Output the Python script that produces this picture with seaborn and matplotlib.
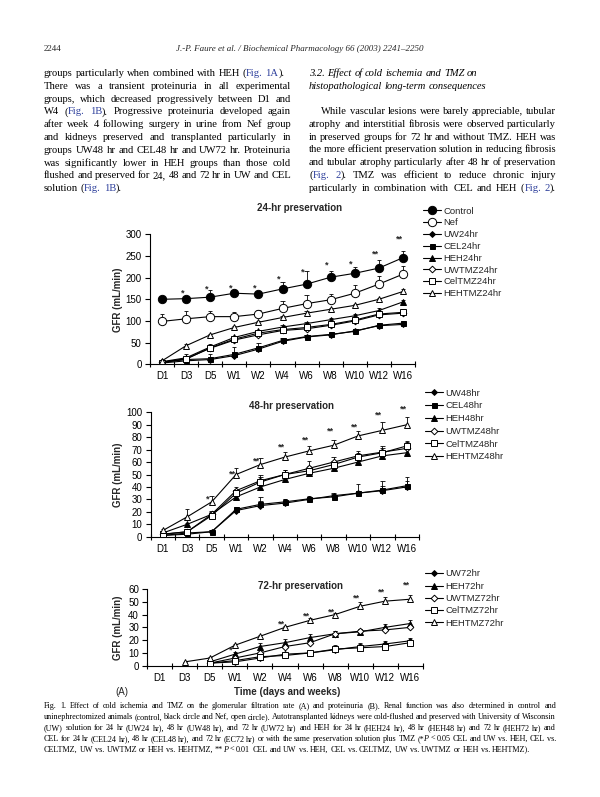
import numpy as np
import pandas as pd
import matplotlib
matplotlib.use("Agg")
import matplotlib.pyplot as plt
from matplotlib.lines import Line2D
import seaborn as sns

# ---------------- data ----------------
categories = ["D1", "D3", "D5", "W1", "W2", "W4", "W6", "W8", "W10", "W12", "W16"]
nan = np.nan

# 24-hr preservation
control = [150, 151.5, 155, 164, 162, 174, 185, 201, 210, 222, 246]
control_err = [3, 4, 16, 7, 4, 15, 30, 14, 15, 19, 16]
nef = [99, 105, 110, 110, 116, 129, 140, 149, 164, 185, 208]
nef_err = [17, 17, 12, 11, 10, 18, 20, 13, 18, 18, 18]
uw24 = [3, 8, 11, 20, 35, 53, 63, 68, 77, 89, 92]
uw24_err = [2, 4, 6, 8, 6, 5, 4, 4, 5, 5, 6]
cel24 = [5, 11, 13, 23, 38, 55, 64, 69, 76, 90, 95]
cel24_err = [2, 8, 10, 16, 12, 5, 4, 4, 5, 6, 6]
heh24 = [6, 15, 40, 62, 76, 86, 94, 103, 112, 124, 144]
heh24_err = [2, 8, 6, 4, 4, 4, 4, 4, 4, 5, 5]
uwtmz24 = [5, 13, 37, 56, 68, 78, 82, 90, 100, 114, 118]
uwtmz24_err = [2, 6, 8, 5, 6, 5, 5, 6, 6, 8, 10]
celtmz24 = [4, 12, 38, 58, 72, 80, 85, 92, 102, 116, 120]
celtmz24_err = [2, 5, 6, 5, 6, 5, 5, 5, 5, 6, 8]
hehtmz24 = [8, 43, 68, 85, 97, 108, 118, 127, 136, 150, 168]
hehtmz24_err = [2, 3, 3, 3, 3, 3, 4, 3, 4, 4, 5]
stars24_idx = [1, 2, 3, 4, 5, 6, 7, 8, 9, 10]
stars24_val = [165, 174, 175, 175, 196, 212, 229, 231, 255, 288]
stars24_txt = ["*", "*", "*", "*", "*", "*", "*", "*", "**", "**"]

# 48-hr preservation
uw48 = [1, 2, 4, 21, 25, 27, 30, 33, 35, 37, 40]
uw48_err = [1, 1, 1, 2, 7, 3, 2, 2, 7, 8, 8]
cel48 = [1, 3, 4, 22, 26, 28, 30.5, 32, 35, 37.5, 41]
cel48_err = [1, 1, 1, 2, 3, 2, 2, 2, 2, 3, 4]
heh48 = [3, 10, 18, 32, 40, 46, 51, 55, 60, 65, 67.5]
heh48_err = [1, 1, 2, 2, 3, 2, 3, 3, 2, 2, 3]
uwtmz48 = [2, 4, 18, 37, 45, 50, 55, 60, 65, 68, 71]
uwtmz48_err = [1, 1, 3, 3, 5, 4, 6, 4, 4, 5, 5]
celtmz48 = [2, 4, 17, 35, 44, 50, 53, 58, 64, 67.5, 73]
celtmz48_err = [1, 1, 2, 3, 4, 4, 4, 3, 3, 4, 4]
hehtmz48 = [5, 16, 28, 50, 58, 64, 69, 73.5, 81, 85.5, 90]
hehtmz48_err = [1, 6, 5, 5, 5, 4, 4, 4, 4, 6.5, 6]
stars48_idx = [2, 3, 4, 5, 6, 7, 8, 9, 10]
stars48_val = [30, 50, 61, 72, 78, 85, 88, 98, 103]
stars48_txt = ["*", "**", "**", "**", "**", "**", "**", "**", "**"]

# 72-hr preservation
uw72 = [nan, nan, 2, 3, 6, 9, 10, 12.5, 15, 17, 19.5]
uw72_err = [0, 0, 1, 1, 1, 1, 1, 2, 3, 2, 2]
heh72 = [nan, nan, 3, 9, 15, 18, 22, 25, 26.5, 30, 33]
heh72_err = [0, 0, 1, 2, 3, 3, 3, 2, 2, 3, 3]
uwtmz72 = [nan, nan, 2, 6, 10, 15, 18, 25, 27, 28, 30]
uwtmz72_err = [0, 0, 1, 1, 2, 2, 2, 2, 2, 2, 2]
celtmz72 = [nan, nan, 2, 4, 7, 8, 10, 13, 14, 15, 18]
celtmz72_err = [0, 0, 1, 1, 1, 1, 1, 3, 3, 2, 2]
hehtmz72 = [nan, 3, 6, 16, 23, 30, 35.5, 40, 46.5, 50.5, 52]
hehtmz72_err = [0, 0, 1, 1, 1, 1, 2, 1, 3, 3, 3]
stars72_idx = [3, 5, 6, 7, 8, 9, 10]
stars72_val = [12.3, 32.7, 39, 41.8, 52.8, 58, 63]
stars72_txt = ["*", "**", "**", "**", "**", "**", "**"]

# ---------------- styles ----------------
STY = {
    "Control": ("o", 6.0, "black"),
    "Nef": ("o", 6.0, "white"),
    "UW": ("D", 3.0, "black"),
    "CEL": ("s", 3.6, "black"),
    "HEH": ("^", 4.2, "black"),
    "UWTMZ": ("D", 3.4, "white"),
    "CelTMZ": ("s", 3.8, "white"),
    "HEHTMZ": ("^", 4.8, "white"),
}

sns.set_theme(style="ticks")
plt.rcParams["font.family"] = ["Liberation Sans", "DejaVu Sans"]
plt.rcParams["axes.edgecolor"] = "black"
plt.rcParams["xtick.color"] = "black"
plt.rcParams["ytick.color"] = "black"

W, H = 600, 797
fig = plt.figure(figsize=(W / 100, H / 100), dpi=100)
fig.patch.set_facecolor("white")


def fx(x):
    return x / W


def fy(y):
    return 1 - y / H


def add_axes(left, right, top, bottom):
    return fig.add_axes([fx(left), fy(bottom), (right - left) / W, (bottom - top) / H])


def style_axes(ax, ymax, ystep, left, right):
    sns.despine(ax=ax)
    ax.set_facecolor("none")
    ax.set_xlim(-0.5, 10.5)
    ax.set_ylim(0, ymax)
    ax.set_yticks(np.arange(0, ymax + 0.1, ystep))
    ax.set_xticks(np.arange(len(categories)))
    ax.set_xticklabels(categories)
    ax.set_xticks(np.arange(-0.5, 11, 1), minor=True)
    ax.tick_params(axis="x", which="major", length=0, pad=5, labelsize=7)
    ax.tick_params(axis="x", which="minor", length=5, width=0.8, direction="inout")
    ax.tick_params(axis="y", length=3.5, width=0.8, direction="out", pad=2.5, labelsize=7)
    for s in ["left", "bottom"]:
        ax.spines[s].set_linewidth(0.8)
    ax.set_xlabel("")
    ax.set_ylabel("GFR (mL/min)", fontsize=7, fontweight="bold")
    ax.yaxis.set_label_coords((123 - left) / (right - left), 0.5)


def plot_series(ax, vals, errs, key):
    m, ms, fc = STY[key]
    x = np.arange(len(categories))
    v = np.asarray(vals, dtype=float)
    e = np.asarray(errs, dtype=float)
    ok = ~np.isnan(v)
    df = pd.DataFrame({"x": x[ok], "y": v[ok]})
    ax.vlines(x[ok], v[ok], v[ok] + e[ok], color="black", lw=0.6, zorder=2)
    ax.hlines(v[ok] + e[ok], x[ok] - 0.09, x[ok] + 0.09, color="black", lw=0.6, zorder=2)
    sns.lineplot(data=df, x="x", y="y", ax=ax, color="black", lw=0.8, marker=m,
                 markersize=ms, markerfacecolor=fc, markeredgecolor="black",
                 markeredgewidth=0.7, errorbar=None, legend=False, zorder=3)


def add_stars(ax, idx, vals, txt):
    for i, v, t in zip(idx, vals, txt):
        ax.text(i - 0.15, v, t, ha="center", va="center", fontsize=6.5,
                fontweight="bold", clip_on=False)


def make_legend(ax, names, keys, x, ytop, spacing):
    handles = []
    for k in keys:
        m, ms, fc = STY[k]
        handles.append(Line2D([], [], color="black", lw=0.8, marker=m, markersize=ms,
                              markerfacecolor=fc, markeredgecolor="black",
                              markeredgewidth=0.7))
    ax.legend(handles, names, loc="upper left", bbox_to_anchor=(fx(x), fy(ytop)),
              bbox_transform=fig.transFigure, frameon=False, fontsize=6.8,
              handlelength=1.9, handletextpad=0.25, labelspacing=spacing,
              borderpad=0, borderaxespad=0)


# ---------------- chart 1 ----------------
L1, R1 = 150, 415
ax1 = add_axes(L1, R1, 234.3, 364.3)
for vals, errs, key in [(uw24, uw24_err, "UW"), (cel24, cel24_err, "CEL"),
                        (heh24, heh24_err, "HEH"), (uwtmz24, uwtmz24_err, "UWTMZ"),
                        (celtmz24, celtmz24_err, "CelTMZ"), (hehtmz24, hehtmz24_err, "HEHTMZ"),
                        (nef, nef_err, "Nef"), (control, control_err, "Control")]:
    plot_series(ax1, vals, errs, key)
style_axes(ax1, 300, 50, L1, R1)
add_stars(ax1, stars24_idx, stars24_val, stars24_txt)
make_legend(ax1, ["Control", "Nef", "UW24hr", "CEL24hr", "HEH24hr", "UWTMZ24hr",
                  "CelTMZ24hr", "HEHTMZ24hr"],
            ["Control", "Nef", "UW", "CEL", "HEH", "UWTMZ", "CelTMZ", "HEHTMZ"],
            423, 206.5, 0.3)
fig.text(fx(300), fy(208), "24-hr preservation", ha="center", va="center",
         fontsize=7, fontweight="bold")

# ---------------- chart 2 ----------------
L2, R2 = 150.7, 419
ax2 = add_axes(L2, R2, 412.3, 536.7)
for vals, errs, key in [(uw48, uw48_err, "UW"), (cel48, cel48_err, "CEL"),
                        (heh48, heh48_err, "HEH"), (uwtmz48, uwtmz48_err, "UWTMZ"),
                        (celtmz48, celtmz48_err, "CelTMZ"), (hehtmz48, hehtmz48_err, "HEHTMZ")]:
    plot_series(ax2, vals, errs, key)
style_axes(ax2, 100, 10, L2, R2)
add_stars(ax2, stars48_idx, stars48_val, stars48_txt)
make_legend(ax2, ["UW48hr", "CEL48hr", "HEH48hr", "UWTMZ48hr", "CelTMZ48hr", "HEHTMZ48hr"],
            ["UW", "CEL", "HEH", "UWTMZ", "CelTMZ", "HEHTMZ"], 425, 388.5, 0.4)
fig.text(fx(291.7), fy(405.7), "48-hr preservation", ha="center", va="center",
         fontsize=7, fontweight="bold")

# ---------------- chart 3 ----------------
L3, R3 = 147.3, 422.7
ax3 = add_axes(L3, R3, 589, 665.7)
for vals, errs, key in [(uw72, uw72_err, "UW"), (heh72, heh72_err, "HEH"),
                        (uwtmz72, uwtmz72_err, "UWTMZ"), (celtmz72, celtmz72_err, "CelTMZ"),
                        (hehtmz72, hehtmz72_err, "HEHTMZ")]:
    plot_series(ax3, vals, errs, key)
style_axes(ax3, 60, 10, L3, R3)
add_stars(ax3, stars72_idx, stars72_val, stars72_txt)
make_legend(ax3, ["UW72hr", "HEH72hr", "UWTMZ72hr", "CelTMZ72hr", "HEHTMZ72hr"],
            ["UW", "HEH", "UWTMZ", "CelTMZ", "HEHTMZ"], 425, 569.5, 0.35)
fig.text(fx(300), fy(585.7), "72-hr preservation", ha="center", va="center",
         fontsize=7, fontweight="bold")
fig.text(fx(286.7), fy(691.7), "Time (days and weeks)", ha="center", va="center",
         fontsize=7, fontweight="bold")
fig.text(fx(121.7), fy(691.7), "(A)", ha="center", va="center", fontsize=7)

# ---------------- page text ----------------
renderer = fig.canvas.get_renderer()
BLUE = "#2a3c9a"
SERIF = ["Liberation Serif", "DejaVu Serif"]


def parse(line):
    words, segs, buf = [], [], ""
    blue = ital = False
    for ch in line:
        if ch in "{}[]":
            if buf:
                segs.append((buf, blue, ital))
                buf = ""
            if ch == "{":
                blue = True
            elif ch == "}":
                blue = False
            elif ch == "[":
                ital = True
            else:
                ital = False
        elif ch == " ":
            if buf:
                segs.append((buf, blue, ital))
                buf = ""
            if segs:
                words.append(segs)
                segs = []
        else:
            buf += ch
    if buf:
        segs.append((buf, blue, ital))
    if segs:
        words.append(segs)
    return words


_cache = {}


def measure(s, fs, st):
    key = (s, round(fs, 4), st)
    if key not in _cache:
        t = fig.text(0, 0, s, fontsize=fs, family=SERIF, style=st)
        _cache[key] = t.get_window_extent(renderer=renderer).width
        t.remove()
    return _cache[key]


def advance(s, fs, st):
    return measure("I" + s + "I", fs, st) - measure("II", fs, st)


def text_block(lines, x0, x1, baselines, fs, italic=False, justify=None, indents=None):
    n = len(lines)
    if justify is None:
        justify = [True] * (n - 1) + [False]
    if indents is None:
        indents = [0] * n
    parsed = [parse(line) for line in lines]
    base_st = "italic" if italic else "normal"

    def style_of(it):
        return "italic" if (it != italic) else "normal"

    def word_w(w, f):
        return measure("".join(s for s, b, it in w), f, base_st)

    sp = advance(" ", fs, base_st)
    avail = x1 - x0
    scale = 1.0
    for li, words in enumerate(parsed):
        sw = sum(word_w(w, fs) for w in words)
        need = sw + (len(words) - 1) * 0.8 * sp + indents[li]
        scale = max(scale, need / avail)
    if scale > 1.0:
        fs = fs / scale
        sp = advance(" ", fs, base_st)
    for li, words in enumerate(parsed):
        widths = [word_w(w, fs) for w in words]
        if justify[li] and len(words) > 1:
            gap = (avail - indents[li] - sum(widths)) / (len(words) - 1)
        else:
            gap = sp
        x = x0 + indents[li]
        for w, ww in zip(words, widths):
            prefix = ""
            for s, b, it in w:
                prefix += s
                right = x + measure(prefix, fs, base_st)
                fig.text(fx(right), fy(baselines[li]), s, fontsize=fs, family=SERIF,
                         style=style_of(it), color=BLUE if b else "black",
                         va="baseline", ha="right")
            x += ww + gap


# header
fig.text(fx(44), fy(51), "2244", fontsize=6.5, family=SERIF, va="baseline", ha="left")
fig.text(fx(300), fy(51), "J.-P. Faure et al. / Biochemical Pharmacology 66 (2003) 2241\u20132250",
         fontsize=6.5, family=SERIF, style="italic", va="baseline", ha="center")

left_lines = [
    "groups particularly when combined with HEH ({Fig. 1A}).",
    "There was a transient proteinuria in all experimental",
    "groups, which decreased progressively between D1 and",
    "W4 ({Fig. 1B}). Progressive proteinuria developed again",
    "after week 4 following surgery in urine from Nef group",
    "and kidneys preserved and transplanted particularly in",
    "groups UW48 hr and CEL48 hr and UW72 hr. Proteinuria",
    "was significantly lower in HEH groups than those cold",
    "flushed and preserved for 24, 48 and 72 hr in UW and CEL",
    "solution ({Fig. 1B}).",
]
body_base = [76 + 12.8 * i for i in range(10)]
text_block(left_lines, 44, 291, body_base, 7.6,
           justify=[False] + [True] * 8 + [False])

text_block(["3.2. Effect of cold ischemia and TMZ on",
            "histopathological long-term consequences"],
           309, 556, [76, 89], 7.6, italic=True, justify=[False, False])

right_lines = [
    "While vascular lesions were barely appreciable, tubular",
    "atrophy and interstitial fibrosis were observed particularly",
    "in preserved groups for 72 hr and without TMZ. HEH was",
    "the more efficient preservation solution in reducing fibrosis",
    "and tubular atrophy particularly after 48 hr of preservation",
    "({Fig. 2}). TMZ was efficient to reduce chronic injury",
    "particularly in combination with CEL and HEH ({Fig. 2}).",
]
text_block(right_lines, 309, 556, [114 + 12.8 * i for i in range(7)], 7.6,
           justify=[True] * 7, indents=[12, 0, 0, 0, 0, 0, 0])

caption_lines = [
    "Fig. 1. Effect of cold ischemia and TMZ on the glomerular filtration rate (A) and proteinuria (B). Renal function was also determined in control and",
    "uninephrectomized animals (control, black circle and Nef, open circle). Autotransplanted kidneys were cold-flushed and preserved with University of Wisconsin",
    "(UW) solution for 24 hr (UW24 hr), 48 hr (UW48 hr), and 72 hr (UW72 hr) and HEH for 24 hr (HEH24 hr), 48 hr (HEH48 hr) and 72 hr (HEH72 hr) and",
    "CEL for 24 hr (CEL24 hr), 48 hr (CEL48 hr), and 72 hr (EC72 hr) or with the same preservation solution plus TMZ (*[P] < 0.05 CEL and UW vs. HEH, CEL vs.",
    "CELTMZ, UW vs. UWTMZ or HEH vs. HEHTMZ, **[P] < 0.01 CEL and UW vs. HEH, CEL vs. CELTMZ, UW vs. UWTMZ or HEH vs. HEHTMZ).",
]
text_block(caption_lines, 44, 556, [708 + 10.9 * i for i in range(5)], 5.9)

fig.savefig("out.png", dpi=100, facecolor="white")
